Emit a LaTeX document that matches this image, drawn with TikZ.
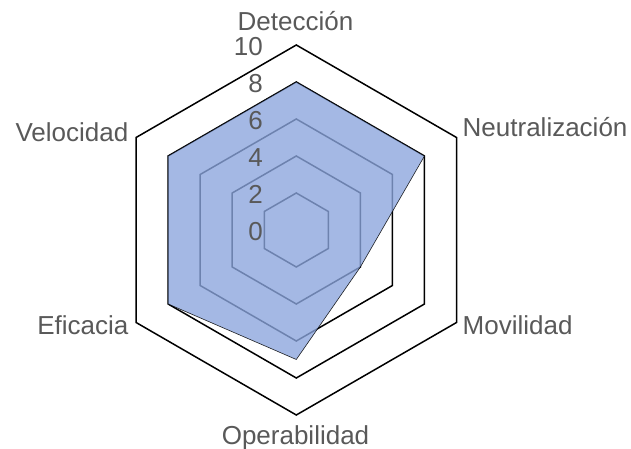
\documentclass[tikz,border=0pt]{standalone}
\usepackage{fontspec}
\setmainfont{Liberation Sans}
\definecolor{lbl}{RGB}{89,89,89}
\definecolor{area}{RGB}{139,165,221}
\begin{document}
\begin{tikzpicture}[x=1pt,y=1pt,
  lab/.style={text=lbl, font=\fontsize{26}{30}\selectfont, inner sep=0pt},
  ring/.style={draw=black, line width=1.5pt, line join=miter},
  areastyle/.style={fill=area, fill opacity=0.79, draw=black, draw opacity=0.85, line width=0.6pt, line join=miter},
]
\useasboundingbox (0,0) rectangle (631,449);
\begin{scope}[shift={(296.3,219)}]
  \foreach \v in {2,4,6,8,10} {
    \pgfmathsetmacro{\r}{18.5*\v}
    \draw[ring] (90:\r) -- (30:\r) -- (-30:\r) -- (-90:\r) -- (-150:\r) -- (150:\r) -- cycle;
  }
  \filldraw[areastyle] (90:148) -- (30:148) -- (-30:74) -- (-90:129.5) -- (-150:148) -- (150:148) -- cycle;
\end{scope}
% tick labels
\node[lab, anchor=base east] (t10) at (263,393.5) {10};
\node[lab, anchor=base east] (t8) at (263,356.5) {8};
\node[lab, anchor=base east] (t6) at (263,319.5) {6};
\node[lab, anchor=base east] (t4) at (263,282.5) {4};
\node[lab, anchor=base east] (t2) at (263,245.5) {2};
\node[lab, anchor=base east] (t0) at (263,208.5) {0};
% axis labels
\node[lab, anchor=base] (det) at (295.5,418.3) {Detección};
\node[lab, anchor=base west] (neu) at (462.5,312.3) {Neutralización};
\node[lab, anchor=base west] (mov) at (462.5,114.7) {Movilidad};
\node[lab, anchor=base] (ope) at (295.5,4.7) {Operabilidad};
\node[lab, anchor=base east] (efi) at (128.5,114.7) {Eficacia};
\node[lab, anchor=base east] (vel) at (128.5,307.3) {Velocidad};
\end{tikzpicture}
\end{document}
